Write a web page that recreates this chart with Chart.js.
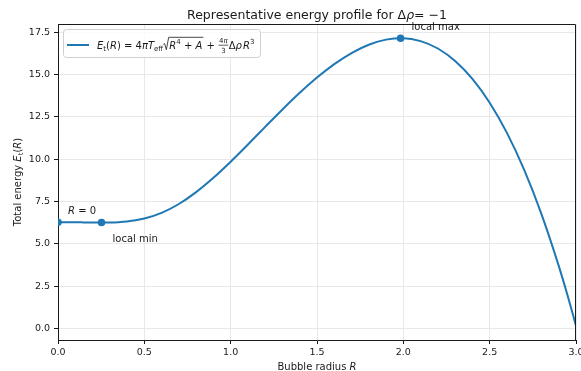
<!DOCTYPE html>
<html><head><meta charset="utf-8">
<script src="https://cdn.jsdelivr.net/npm/chart.js@4/dist/chart.umd.min.js"></script>
<style>html,body{margin:0;padding:0;background:#fff}#wrap{width:581px;height:371px}</style>
</head><body><div id="wrap"><canvas id="c" width="581" height="371"></canvas></div>
<script>
// Bubble radius R and total energy E_t(R)
const radius = [0, 0.05, 0.1, 0.15, 0.2, 0.25, 0.3, 0.35, 0.4, 0.45, 0.5, 0.6, 0.7, 0.8, 0.9, 1.0,
  1.1, 1.2, 1.3, 1.4, 1.5, 1.6, 1.7, 1.8, 1.9, 2.0, 2.1, 2.2, 2.3, 2.4, 2.5, 2.6, 2.7, 2.8, 2.9, 2.95, 3.0];
const energy = [6.283, 6.283, 6.280, 6.275, 6.270, 6.267, 6.271, 6.289, 6.329, 6.397, 6.501, 6.838, 7.361, 8.061, 8.908, 9.861,
  10.877, 11.917, 12.944, 13.925, 14.827, 15.621, 16.277, 16.768, 17.067, 17.146, 16.980, 16.543, 15.808, 14.749, 13.341, 11.559, 9.376, 6.768, 3.709, 2.003, 0.174];
// Marked points
const markerR = [0, 0.252, 1.984];
const markerE = [6.283, 6.267, 17.146];
const markerLabels = ['R = 0', 'local min', 'local max'];
// Tick labels
const xTicks = [0, 0.5, 1.0, 1.5, 2.0, 2.5, 3.0];
const yTicks = [0, 2.5, 5.0, 7.5, 10.0, 12.5, 15.0, 17.5];

const FAM = '"DejaVu Sans", sans-serif';
const TXT = '#1a1a1a';
const BLUE = '#1f77b4';
function fnt(size, it) { return (it ? 'italic ' : '') + size + 'px ' + FAM; }

// minimal rich-text renderer
function rich(ctx, segs, x, y, b, draw) {
  let cx = x;
  for (const s of segs) {
    if (s.frac) {
      const fs = b * 0.7;
      const wn = richW(ctx, s.num, fs), wd = richW(ctx, s.den, fs);
      const w = Math.max(wn, wd) + 2;
      if (draw) {
        rich(ctx, s.num, cx + 1 + (w - 2 - wn) / 2, y - b * 0.52, fs, true);
        rich(ctx, s.den, cx + 1 + (w - 2 - wd) / 2, y + b * 0.42, fs, true);
        ctx.beginPath(); ctx.lineWidth = 0.7; ctx.strokeStyle = TXT;
        ctx.moveTo(cx + 0.5, y - b * 0.33); ctx.lineTo(cx + w - 0.5, y - b * 0.33); ctx.stroke();
      }
      cx += w; continue;
    }
    if (s.sqrt) {
      const rw = b * 0.62;
      const inner = richW(ctx, s.body, b);
      if (draw) {
        ctx.beginPath(); ctx.lineWidth = 0.8; ctx.strokeStyle = TXT;
        ctx.moveTo(cx + b * 0.02, y - b * 0.42);
        ctx.lineTo(cx + b * 0.14, y - b * 0.50);
        ctx.lineTo(cx + b * 0.32, y + b * 0.12);
        ctx.lineTo(cx + b * 0.55, y - b * 1.12);
        ctx.lineTo(cx + rw + inner + 1, y - b * 1.12);
        ctx.stroke();
        rich(ctx, s.body, cx + rw, y, b, true);
      }
      cx += rw + inner + 1; continue;
    }
    const fs = b * (s.s || 1);
    ctx.font = fnt(fs, s.it);
    const w = ctx.measureText(s.t).width;
    if (draw) { ctx.fillStyle = TXT; ctx.fillText(s.t, cx, y + (s.dy || 0) * b); }
    cx += w + (s.sp || 0);
  }
  return cx - x;
}
function richW(ctx, segs, b) { return rich(ctx, segs, 0, 0, b, false); }

const titleSegs = [{t: 'Representative energy profile for '}, {t: 'Δ'}, {t: 'ρ', it: true}, {t: '= −1'}];
const xLabelSegs = [{t: 'Bubble radius '}, {t: 'R', it: true}];
const yLabelSegs = [{t: 'Total energy '}, {t: 'E', it: true}, {t: 't', s: 0.7, dy: 0.22}, {t: '('}, {t: 'R', it: true}, {t: ')'}];
const legendSegs = [
  {t: 'E', it: true}, {t: 't', s: 0.7, dy: 0.22}, {t: '('}, {t: 'R', it: true}, {t: ') = 4'}, {t: 'π', it: true},
  {t: 'T', it: true}, {t: 'eff', s: 0.7, dy: 0.22},
  {sqrt: true, body: [{t: 'R', it: true}, {t: '4', s: 0.7, dy: -0.42}, {t: ' + '}, {t: 'A', it: true}]},
  {t: ' + '},
  {frac: true, num: [{t: '4'}, {t: 'π', it: true}], den: [{t: '3'}]},
  {t: 'Δ'}, {t: 'ρ', it: true, sp: 1}, {t: 'R', it: true}, {t: '3', s: 0.7, dy: -0.42}
];
const annSegs = [
  [{t: 'R', it: true}, {t: ' = 0'}],
  [{t: 'local min'}],
  [{t: 'local max'}]
];
const annOffsets = [[10, -8], [11, 19], [11, -8]];

const overlay = {
  id: 'overlay',
  afterDraw(chart) {
    const ctx = chart.ctx, a = chart.chartArea, xs = chart.scales.x, ys = chart.scales.y;
    ctx.save();
    // frame top/right
    ctx.strokeStyle = TXT; ctx.lineWidth = 1;
    ctx.beginPath();
    ctx.moveTo(Math.round(a.left) + 0.5, Math.round(a.top) + 0.5);
    ctx.lineTo(Math.round(a.right) - 0.5, Math.round(a.top) + 0.5);
    ctx.lineTo(Math.round(a.right) - 0.5, Math.round(a.bottom) + 0.5);
    ctx.stroke();
    ctx.textBaseline = 'alphabetic';
    // annotations
    for (let i = 0; i < markerR.length; i++) {
      const px = xs.getPixelForValue(markerR[i]), py = ys.getPixelForValue(markerE[i]);
      rich(ctx, annSegs[i], px + annOffsets[i][0], py + annOffsets[i][1], 10, true);
    }
    // title
    const tw = richW(ctx, titleSegs, 12.5);
    rich(ctx, titleSegs, (a.left + a.right) / 2 - tw / 2, 19, 12.5, true);
    // x label
    const xw = richW(ctx, xLabelSegs, 10);
    rich(ctx, xLabelSegs, (a.left + a.right) / 2 - xw / 2, 370, 10, true);
    // y label
    ctx.save();
    ctx.translate(21, (a.top + a.bottom) / 2);
    ctx.rotate(-Math.PI / 2);
    const yw = richW(ctx, yLabelSegs, 10);
    rich(ctx, yLabelSegs, -yw / 2, 0, 10, true);
    ctx.restore();
    // legend
    const lx = 63.5, ly = 29.5, lw = 197, lh = 28, r = 3;
    ctx.beginPath();
    ctx.moveTo(lx + r, ly); ctx.lineTo(lx + lw - r, ly); ctx.arcTo(lx + lw, ly, lx + lw, ly + r, r);
    ctx.lineTo(lx + lw, ly + lh - r); ctx.arcTo(lx + lw, ly + lh, lx + lw - r, ly + lh, r);
    ctx.lineTo(lx + r, ly + lh); ctx.arcTo(lx, ly + lh, lx, ly + lh - r, r);
    ctx.lineTo(lx, ly + r); ctx.arcTo(lx, ly, lx + r, ly, r); ctx.closePath();
    ctx.fillStyle = 'rgba(255,255,255,0.8)'; ctx.fill();
    ctx.strokeStyle = '#d0d0d0'; ctx.lineWidth = 1; ctx.stroke();
    ctx.beginPath(); ctx.strokeStyle = BLUE; ctx.lineWidth = 2;
    ctx.moveTo(67, 45); ctx.lineTo(89, 45); ctx.stroke();
    rich(ctx, legendSegs, 97, 48.5, 10, true);
    ctx.restore();
  }
};

new Chart(document.getElementById('c'), {
  type: 'scatter',
  data: {
    datasets: [
      {
        data: radius.map((r, i) => ({x: r, y: energy[i]})),
        showLine: true, borderColor: BLUE, borderWidth: 2, pointRadius: 0,
        cubicInterpolationMode: 'monotone', fill: false
      },
      {
        data: markerR.map((r, i) => ({x: r, y: markerE[i]})),
        showLine: false, pointRadius: 3.8, backgroundColor: BLUE, borderWidth: 0, pointHoverRadius: 3.8
      }
    ]
  },
  options: {
    responsive: false, animation: false, devicePixelRatio: 1,
    layout: {padding: {left: 0, right: 5, top: 24, bottom: 0}},
    plugins: {legend: {display: false}, tooltip: {enabled: false}, title: {display: false}},
    scales: {
      x: {
        type: 'linear', min: 0, max: 3,
        afterBuildTicks: s => { s.ticks = xTicks.map(v => ({value: v})); },
        afterFit: s => { s.height = 31; s.paddingLeft = 0; s.paddingRight = 0; },
        ticks: {callback: v => Number(v).toFixed(1), font: {family: FAM, size: 9.5}, color: TXT, padding: 3, maxRotation: 0, autoSkip: false},
        grid: {color: '#e8e8e8', tickColor: TXT, tickLength: 4, lineWidth: 1},
        border: {display: true, color: TXT, width: 1}
      },
      y: {
        type: 'linear', min: -0.67, max: 17.99,
        afterBuildTicks: s => { s.ticks = yTicks.map(v => ({value: v})); },
        afterFit: s => { s.width = 58; s.paddingTop = 0; s.paddingBottom = 0; },
        ticks: {callback: v => Number(v).toFixed(1), font: {family: FAM, size: 9.5}, color: TXT, padding: 4, autoSkip: false},
        grid: {color: '#e8e8e8', tickColor: TXT, tickLength: 4, lineWidth: 1},
        border: {display: true, color: TXT, width: 1}
      }
    }
  },
  plugins: [overlay]
});
</script>
</body></html>
